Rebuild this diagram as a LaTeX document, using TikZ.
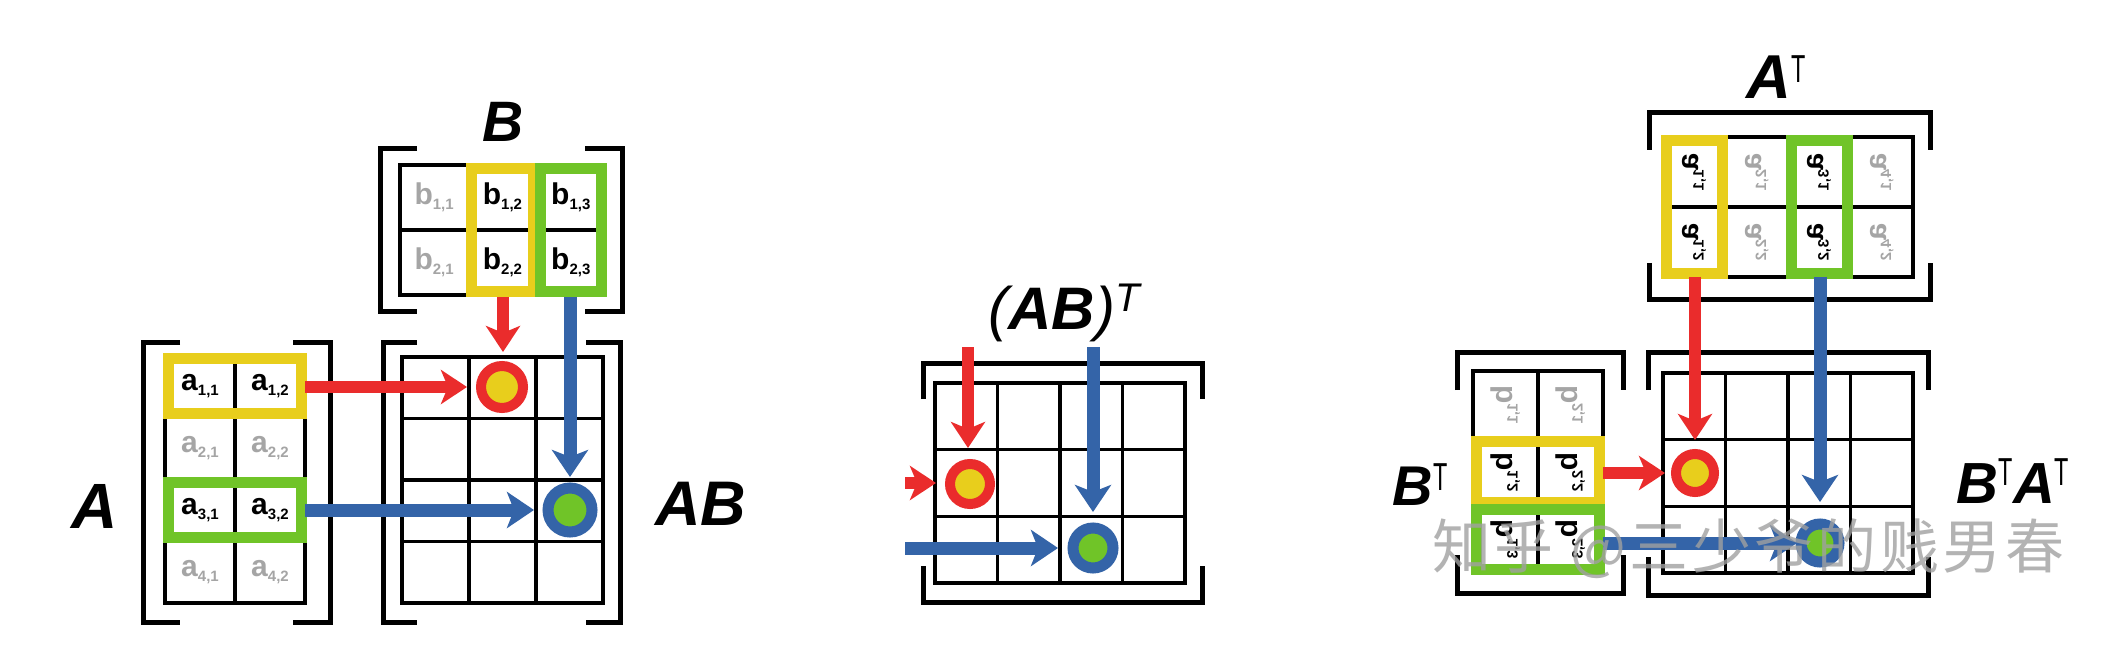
\documentclass[tikz,border=0pt]{standalone}
\usepackage{fontspec}
\setmainfont{Liberation Sans}
\newfontfamily\cjkfont{Noto Sans CJK SC}[LetterSpace=6]
\usetikzlibrary{arrows.meta}
\definecolor{hlyel}{RGB}{232,206,28}
\definecolor{hlgrn}{RGB}{112,196,40}
\definecolor{arred}{RGB}{234,44,44}
\definecolor{arblu}{RGB}{52,100,168}
\definecolor{dimtxt}{RGB}{165,165,165}
\definecolor{wmgray}{RGB}{160,160,160}
\newcommand\ent[2]{{\fontsize{30}{30}\selectfont\bfseries #1\raisebox{-5pt}{\fontsize{15}{15}\selectfont #2}}}
\newcommand\labf[1]{\fontsize{#1}{#1}\selectfont\bfseries\itshape}
\newcommand\supT[1]{\raisebox{#1}{\fontsize{39}{39}\selectfont\normalfont\scalebox{0.6}[1]{T}}}
\newcommand\mgrid[6]{%
  \foreach \gi in {0,...,#5} \draw[gridline] ({#1+\gi*#3},#2) -- ({#1+\gi*#3},{#2+#6*#4});
  \foreach \gj in {0,...,#6} \draw[gridline] (#1,{#2+\gj*#4}) -- ({#1+#5*#3},{#2+\gj*#4});}
\newcommand\vbrk[5]{%
  \draw[brk] ({#1+#5},#3) -- (#1,#3) -- (#1,#4) -- ({#1+#5},#4);
  \draw[brk] ({#2-#5},#3) -- (#2,#3) -- (#2,#4) -- ({#2-#5},#4);}
\newcommand\hbrk[5]{%
  \draw[brk] (#1,{#3+#5}) -- (#1,#3) -- (#2,#3) -- (#2,{#3+#5});
  \draw[brk] (#1,{#4-#5}) -- (#1,#4) -- (#2,#4) -- (#2,{#4-#5});}
\tikzset{
  gridline/.style={line width=3.5pt, black, line cap=rect},
  thinline/.style={line width=3pt, black},
  brk/.style={line width=5pt, black},
  hly/.style={draw=hlyel, line width=11pt},
  hlg/.style={draw=hlgrn, line width=11pt},
  redarr/.style={draw=arred, line width=12pt, -{Stealth[width=34pt,length=26pt,inset=7pt]}},
  bluarr/.style={draw=arblu, line width=13pt, -{Stealth[width=36pt,length=27pt,inset=7pt]}},
  redring/.style={circle, draw=arred, line width=10pt, fill=hlyel, inner sep=0pt},
  bluring/.style={circle, draw=arblu, line width=11pt, fill=hlgrn, inner sep=0pt},
  cell/.style={inner sep=0pt},
  tcell/.style={inner sep=0pt, rotate=90, xscale=-1},
}
\begin{document}
\begin{tikzpicture}[x=1pt,y=-1pt]
\useasboundingbox (0,0) rectangle (2115,652);
\fill[white] (0,0) rectangle (2115,652);

% ---------- left: A, B, AB ----------
\vbrk{143}{330}{342}{622}{37}
\vbrk{380}{622}{149}{312}{37}
\vbrk{383}{620}{342}{622}{34}
\mgrid{165}{355}{70}{62}{2}{4}
\mgrid{400}{165}{68.33}{65}{3}{2}
\mgrid{402}{357}{67}{61.5}{3}{4}
\draw[hly] (168.5,358.5) rectangle (301.5,413.5);
\draw[thinline] (235,364) -- (235,408);
\draw[hlg] (168.5,482.5) rectangle (301.5,537.5);
\draw[thinline] (235,488) -- (235,532);
\draw[hly] (471.8,168.5) rectangle (533.2,291.5);
\draw[thinline] (477,230) -- (528,230);
\draw[hlg] (540.2,168.5) rectangle (601.5,291.5);
\draw[thinline] (546,230) -- (596,230);

\foreach \i/\c in {1/black,2/dimtxt,3/black,4/dimtxt}
  \foreach \j in {1,2}
    \node[cell, text=\c] (a\i\j) at ({165+70*(\j-0.5)},{355+62*(\i-0.5)}) {\ent{a}{\i,\j}};
\foreach \j/\c in {1/dimtxt,2/black,3/black}
  \foreach \i in {1,2}
    \node[cell, text=\c] (b\i\j) at ({400+68.33*(\j-0.5)},{165+65*(\i-0.5)}) {\ent{b}{\i,\j}};

\coordinate (lrv1) at (503,297); \coordinate (lrv2) at (503,352);
\coordinate (lrh1) at (305,387); \coordinate (lrh2) at (467,387);
\coordinate (lbv1) at (570,297); \coordinate (lbv2) at (570,477);
\coordinate (lbh1) at (305,510); \coordinate (lbh2) at (534,510);
\draw[redarr] (lrv1) -- (lrv2);
\draw[redarr] (lrh1) -- (lrh2);
\draw[bluarr] (lbv1) -- (lbv2);
\draw[bluarr] (lbh1) -- (lbh2);
\node[redring, minimum size=42pt] (lc1) at (502,387) {};
\node[bluring, minimum size=44pt] (lc2) at (570,510) {};

\node[anchor=base] (labA) at (95,528) {\labf{64}A};
\node[anchor=base] (labB) at (503,142) {\labf{57}B};
\node[anchor=base] (labAB) at (701,525) {\labf{63}AB};

% ---------- middle: (AB)^T ----------
\hbrk{923}{1202}{363}{602}{36}
\mgrid{935}{383}{62.5}{66.67}{4}{3}
\coordinate (mrv1) at (968,347); \coordinate (mrv2) at (968,448);
\coordinate (mrh1) at (905,483); \coordinate (mrh2) at (936,483);
\coordinate (mbv1) at (1093,347); \coordinate (mbv2) at (1093,512);
\coordinate (mbh1) at (905,548); \coordinate (mbh2) at (1058,548);
\draw[redarr] (mrv1) -- (mrv2);
\draw[redarr] (mrh1) -- (mrh2);
\draw[bluarr] (mbv1) -- (mbv2);
\draw[bluarr] (mbh1) -- (mbh2);
\node[redring, minimum size=40pt] (mc1) at (970,484) {};
\node[bluring, minimum size=40pt] (mc2) at (1093,548) {};
\node[anchor=base] (labABT) at (1064,330) {\fontsize{60}{60}\selectfont\itshape(\textbf{AB})\raisebox{18pt}{\fontsize{40}{40}\selectfont\itshape T}};

% ---------- right: B^T, A^T, B^T A^T ----------
\hbrk{1649}{1930}{113}{300}{37}
\hbrk{1457}{1623}{352}{593}{38}
\hbrk{1648}{1928}{352}{595}{38}
\mgrid{1663}{137}{62.5}{70}{4}{2}
\mgrid{1473}{371}{65}{67.33}{2}{3}
\mgrid{1663}{373}{62.5}{66.67}{4}{3}
\draw[hly] (1666.5,140.5) rectangle (1722,273.5);
\draw[thinline] (1672,207) -- (1716,207);
\draw[hlg] (1791.5,140.5) rectangle (1847,273.5);
\draw[thinline] (1797,207) -- (1841,207);
\draw[hly] (1476.5,441.8) rectangle (1599.5,502.2);
\draw[thinline] (1538,447) -- (1538,497);
\draw[hlg] (1476.5,509.2) rectangle (1599.5,569.5);
\draw[thinline] (1538,515) -- (1538,564);

\foreach \c/\cl in {1/black,2/dimtxt,3/black,4/dimtxt}
  \foreach \r in {1,2}
    \node[tcell, text=\cl] (at\r\c) at ({1663+62.5*(\c-0.5)},{137+70*(\r-0.5)}) {\ent{a}{\c,\r}};
\foreach \r/\cl in {1/dimtxt,2/black,3/black}
  \foreach \c in {1,2}
    \node[tcell, text=\cl] (bt\r\c) at ({1473+65*(\c-0.5)},{371+67.33*(\r-0.5)}) {\ent{b}{\c,\r}};

\coordinate (rrv1) at (1695,277); \coordinate (rrv2) at (1695,440);
\coordinate (rrh1) at (1603,473); \coordinate (rrh2) at (1665,473);
\coordinate (rbv1) at (1820,277); \coordinate (rbv2) at (1820,502);
\coordinate (rbh1) at (1603,543); \coordinate (rbh2) at (1797,543);
\draw[redarr] (rrv1) -- (rrv2);
\draw[redarr] (rrh1) -- (rrh2);
\draw[bluarr] (rbv1) -- (rbv2);
\draw[bluarr] (rbh1) -- (rbh2);
\node[redring, minimum size=38pt] (rc1) at (1695,473) {};
\node[bluring, minimum size=38pt] (rc2) at (1820,543) {};

\node[anchor=base] (labAT) at (1776,99) {\labf{62}A\supT{16pt}};
\node[anchor=base] (labBT) at (1420,505) {\labf{56}B\supT{15pt}};
\node[anchor=base] (labBTAT) at (2013,503) {\labf{58}B\supT{18pt}A\supT{18pt}};

% watermark
\node[anchor=west, inner sep=0pt, text=wmgray, opacity=0.8] (wm) at (1432,549) {\cjkfont\fontsize{59}{59}\selectfont 知乎 @三少爷的贱男春};
\end{tikzpicture}
\end{document}
